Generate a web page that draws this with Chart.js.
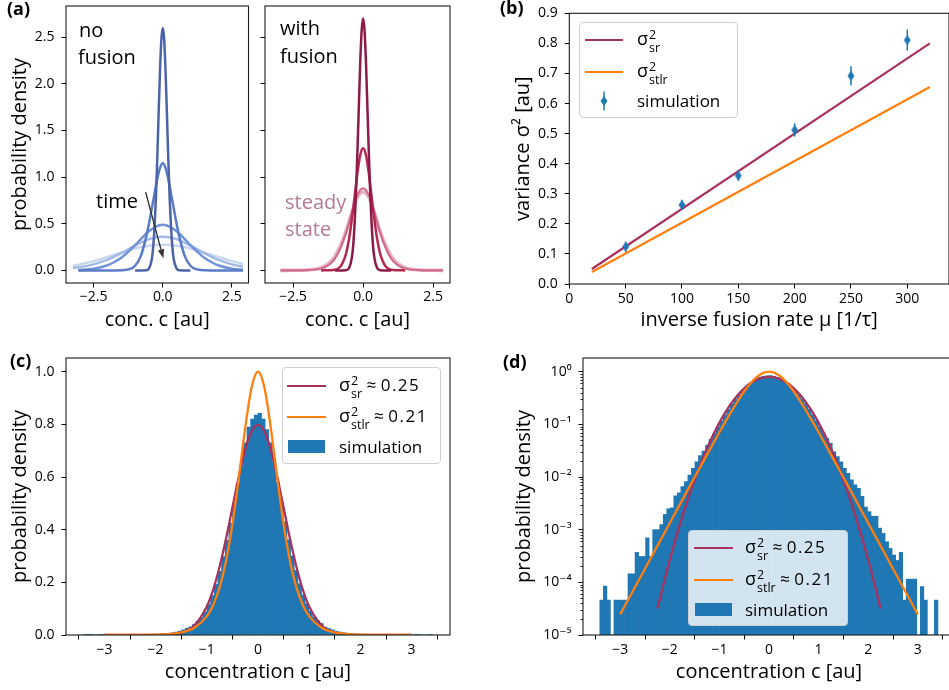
<!DOCTYPE html>
<html>
<head>
<meta charset="utf-8">
<script src="https://cdn.jsdelivr.net/npm/chart.js@4.4.1/dist/chart.umd.min.js"></script>
<style>
html,body{margin:0;padding:0;background:#fff;overflow:hidden;width:949px;height:690px}
body{position:relative;font-family:'Open Sans','DejaVu Sans',sans-serif;color:#000}
canvas.pc{position:absolute}
.t{position:absolute;white-space:nowrap;line-height:22px}
.ann{font-size:20px}
.plab{font-weight:bold;font-size:18px}
.legend{position:absolute;border:1px solid #cfcfcf;border-radius:4px;background:rgba(255,255,255,0.8);box-sizing:border-box}
.lline{position:absolute;height:2.6px}
.lbox{position:absolute;background:#1f77b4}
.ltxt{position:absolute;transform:translateY(-50%);font-size:17px;white-space:nowrap;line-height:22px}
.sig{font-size:18px}
.ss{display:inline-block;vertical-align:middle;font-size:12.5px;line-height:13px;margin-left:1px;text-align:left;position:relative;top:1px}
.ss span{display:block}
.num{letter-spacing:1.5px}
</style>
</head>
<body>
<canvas id="cA1" class="pc" width="255" height="335" style="left:0;top:0"></canvas>
<canvas id="cA2" class="pc" width="200" height="335" style="left:255px;top:0"></canvas>
<canvas id="cB" class="pc" width="475" height="335" style="left:480px;top:0"></canvas>
<canvas id="cC" class="pc" width="470" height="350" style="left:0;top:340px"></canvas>
<canvas id="cD" class="pc" width="480" height="350" style="left:480px;top:340px"></canvas>

<!-- panel labels -->
<div class="t plab" style="left:7px;top:-3px">(a)</div>
<div class="t plab" style="left:500px;top:-4px">(b)</div>
<div class="t plab" style="left:10px;top:349px">(c)</div>
<div class="t plab" style="left:503px;top:350px">(d)</div>

<!-- (a) annotations -->
<div class="t ann" style="left:79px;top:19px">no</div>
<div class="t ann" style="left:78px;top:46px">fusion</div>
<div class="t ann" style="left:280px;top:17px">with</div>
<div class="t ann" style="left:280px;top:45px">fusion</div>
<div class="t ann" style="left:96px;top:190px">time</div>
<div class="t ann" style="left:285px;top:191px;color:#b27a95">steady</div>
<div class="t ann" style="left:285px;top:218px;color:#b27a95">state</div>

<!-- (b) legend -->
<div class="legend" style="left:579px;top:22px;width:159px;height:96px"></div>
<div class="lline" style="left:585px;top:38.7px;width:38px;background:#a8325f"></div>
<div class="ltxt" style="left:637px;top:40px"><span class="sig">σ</span><span class="ss"><span>2</span><span>sr</span></span></div>
<div class="lline" style="left:585px;top:70.7px;width:38px;background:#ff7f0e"></div>
<div class="ltxt" style="left:637px;top:72px"><span class="sig">σ</span><span class="ss"><span>2</span><span>stlr</span></span></div>
<svg style="position:absolute;left:598px;top:91px" width="12" height="20"><line x1="6" y1="0.5" x2="6" y2="19.5" stroke="#1f77b4" stroke-width="1.5"/><polygon points="6,5 9.5,10 6,15 2.5,10" fill="#1f77b4"/></svg>
<div class="ltxt" style="left:637px;top:101px">simulation</div>

<!-- (c) legend -->
<div class="legend" style="left:282px;top:367px;width:159px;height:97px"></div>
<div class="lline" style="left:287px;top:384.7px;width:39px;background:#a8325f"></div>
<div class="ltxt" style="left:339px;top:386px"><span class="sig">σ</span><span class="ss"><span>2</span><span>sr</span></span> ≈ <span class="num">0.25</span></div>
<div class="lline" style="left:287px;top:415.7px;width:39px;background:#ff7f0e"></div>
<div class="ltxt" style="left:339px;top:417px"><span class="sig">σ</span><span class="ss"><span>2</span><span>stlr</span></span> ≈ <span class="num">0.21</span></div>
<div class="lbox" style="left:288px;top:440px;width:37px;height:13px"></div>
<div class="ltxt" style="left:339px;top:447px">simulation</div>

<!-- (d) legend -->
<div class="legend" style="left:688px;top:530px;width:160px;height:96px"></div>
<div class="lline" style="left:694px;top:546.7px;width:39px;background:#a8325f"></div>
<div class="ltxt" style="left:745px;top:548px"><span class="sig">σ</span><span class="ss"><span>2</span><span>sr</span></span> ≈ <span class="num">0.25</span></div>
<div class="lline" style="left:694px;top:578.7px;width:39px;background:#ff7f0e"></div>
<div class="ltxt" style="left:745px;top:580px"><span class="sig">σ</span><span class="ss"><span>2</span><span>stlr</span></span> ≈ <span class="num">0.21</span></div>
<div class="lbox" style="left:695px;top:603px;width:37px;height:13px"></div>
<div class="ltxt" style="left:745px;top:610px">simulation</div>

<script>
// ================= DATA =================
// (a) left: no fusion — curves (darkest = earliest)
const nf1X = [-1,-0.6,-0.5,-0.4,-0.35,-0.3,-0.25,-0.2,-0.15,-0.1,-0.05,0,0.05,0.1,0.15,0.2,0.25,0.3,0.35,0.4,0.5,0.6,1];
const nf1Y = [0,0.002,0.02,0.114,0.24,0.45,0.77,1.19,1.68,2.14,2.48,2.6,2.48,2.14,1.68,1.19,0.77,0.45,0.24,0.114,0.02,0.002,0];
const nf2X = [-3.05,-2,-1.5,-1.2,-1,-0.8,-0.6,-0.5,-0.4,-0.3,-0.2,-0.1,0,0.1,0.2,0.3,0.4,0.5,0.6,0.8,1,1.2,1.5,2,2.9];
const nf2Y = [0,0,0.002,0.013,0.05,0.15,0.36,0.5,0.66,0.82,0.98,1.1,1.15,1.1,0.98,0.82,0.66,0.5,0.36,0.15,0.05,0.013,0.002,0,0];
const nf3X = [-3.05,-2.5,-2,-1.75,-1.5,-1.25,-1,-0.75,-0.5,-0.25,0,0.25,0.5,0.75,1,1.25,1.5,1.75,2,2.5,2.9];
const nf3Y = [0.004,0.018,0.055,0.09,0.135,0.2,0.27,0.35,0.42,0.47,0.49,0.47,0.42,0.35,0.27,0.2,0.135,0.09,0.055,0.018,0.006];
const nf4X = [-3.25,-3,-2.5,-2,-1.5,-1,-0.5,0,0.5,1,1.5,2,2.5,2.9];
const nf4Y = [0.028,0.035,0.065,0.115,0.185,0.265,0.335,0.36,0.335,0.265,0.185,0.115,0.065,0.04];
const nf5X = [-3.25,-3,-2.5,-2,-1.5,-1,-0.5,0,0.5,1,1.5,2,2.5,2.9];
const nf5Y = [0.05,0.065,0.1,0.145,0.19,0.235,0.265,0.275,0.265,0.235,0.19,0.145,0.1,0.07];
// (a) right: with fusion
const wf1X = [-1,-0.6,-0.5,-0.4,-0.35,-0.3,-0.25,-0.2,-0.15,-0.1,-0.05,0,0.05,0.1,0.15,0.2,0.25,0.3,0.35,0.4,0.5,0.6,1];
const wf1Y = [0,0.003,0.025,0.14,0.28,0.52,0.86,1.3,1.78,2.25,2.58,2.7,2.58,2.25,1.78,1.3,0.86,0.52,0.28,0.14,0.025,0.003,0];
const wf2X = [-1.5,-1,-0.8,-0.7,-0.6,-0.5,-0.4,-0.3,-0.2,-0.1,0,0.1,0.2,0.3,0.4,0.5,0.6,0.7,0.8,1,1.5];
const wf2Y = [0,0.008,0.045,0.1,0.19,0.34,0.55,0.8,1.05,1.24,1.31,1.24,1.05,0.8,0.55,0.34,0.19,0.1,0.045,0.008,0];
const wf3X = [-2.95,-2.5,-2,-1.5,-1.2,-1,-0.8,-0.6,-0.4,-0.2,0,0.2,0.4,0.6,0.8,1,1.2,1.5,2,2.5,2.85];
const wf3Y = [0,0,0.003,0.02,0.065,0.13,0.245,0.41,0.62,0.81,0.88,0.81,0.62,0.41,0.245,0.13,0.065,0.02,0.003,0,0];
const wf4X = [-2.95,-2.5,-2,-1.5,-1.2,-1,-0.8,-0.6,-0.4,-0.2,0,0.2,0.4,0.6,0.8,1,1.2,1.5,2,2.5,2.85];
const wf4Y = [0,0.001,0.005,0.03,0.085,0.155,0.27,0.43,0.62,0.785,0.84,0.785,0.62,0.43,0.27,0.155,0.085,0.03,0.005,0.001,0];
const aXTicks = [-2.5, 0, 2.5];
const aYTicks = [0, 0.5, 1.0, 1.5, 2.0, 2.5];
const arrowFrom = [-0.62, 0.84];
const arrowTo = [0.02, 0.13];

// (b) variance vs inverse fusion rate
const muLine = [20, 320];
const srLine = [0.05, 0.80];
const stlrLine = [0.04, 0.655];
const simMu = [50, 100, 150, 200, 250, 300];
const simVar = [0.124, 0.263, 0.36, 0.512, 0.692, 0.811];
const simErr = [0.017, 0.017, 0.017, 0.022, 0.032, 0.035];
const bXTicks = [0, 50, 100, 150, 200, 250, 300];
const bYTicks = [0, 0.1, 0.2, 0.3, 0.4, 0.5, 0.6, 0.7, 0.8, 0.9];

// (c),(d) steady-state histogram (bin centres, density) and model curves
const histC = [-3.375,-3.304,-3.233,-3.162,-3.091,-3.020,-2.949,-2.878,-2.807,-2.736,-2.665,-2.594,-2.523,-2.452,-2.381,-2.310,-2.239,-2.168,-2.097,-2.026,-1.955,-1.884,-1.813,-1.742,-1.671,-1.600,-1.529,-1.458,-1.387,-1.316,-1.245,-1.174,-1.103,-1.032,-0.961,-0.890,-0.819,-0.748,-0.677,-0.606,-0.535,-0.464,-0.393,-0.322,-0.251,-0.180,-0.109,-0.038,0.033,0.104,0.175,0.246,0.317,0.388,0.459,0.530,0.601,0.672,0.743,0.814,0.885,0.956,1.027,1.098,1.169,1.240,1.311,1.382,1.453,1.524,1.595,1.666,1.737,1.808,1.879,1.950,2.021,2.092,2.163,2.234,2.305,2.376,2.447,2.518,2.589,2.660,2.731,2.802,2.873,2.944,3.015,3.086,3.157,3.228,3.299,3.370];
const histD = [4.6e-5,8.5e-5,4.6e-5,0,4.6e-5,4.6e-5,4.6e-5,4.6e-5,1.45e-4,1.45e-4,3.7e-4,3.1e-4,3.1e-4,7.0e-4,3.1e-4,1.0e-3,1.0e-3,1.25e-3,1.95e-3,2.5e-3,2.6e-3,4.4e-3,5.0e-3,6.6e-3,8.2e-3,0.0109,0.0146,0.0195,0.0254,0.031,0.040,0.052,0.066,0.088,0.116,0.150,0.192,0.242,0.298,0.360,0.425,0.50,0.575,0.645,0.73,0.79,0.82,0.835,0.842,0.82,0.78,0.73,0.655,0.58,0.505,0.43,0.362,0.30,0.245,0.195,0.152,0.118,0.09,0.068,0.054,0.0436,0.030,0.0245,0.0195,0.0146,0.0117,0.0088,0.0071,0.0061,0.0043,0.0027,0.0022,0.0018,0.0018,0.00107,8.5e-4,5.9e-4,4.4e-4,3.3e-4,2.6e-4,3.7e-4,4.6e-5,1.15e-4,1.15e-4,1.15e-4,0,8.3e-5,4.6e-5,0,0,4.6e-5];
const curveX = [-3,-2.75,-2.5,-2.25,-2,-1.75,-1.5,-1.25,-1,-0.875,-0.75,-0.625,-0.5,-0.375,-0.25,-0.125,0,0.125,0.25,0.375,0.5,0.625,0.75,0.875,1,1.25,1.5,1.75,2,2.25,2.5,2.75,3];
const srCurve = [1.2e-8,2.15e-7,2.97e-6,3.2e-5,2.68e-4,1.745e-3,8.86e-3,0.0351,0.108,0.1726,0.259,0.3653,0.4839,0.6023,0.7042,0.7734,0.7979,0.7734,0.7042,0.6023,0.4839,0.3653,0.259,0.1726,0.108,0.0351,8.86e-3,1.745e-3,2.68e-4,3.2e-5,2.97e-6,2.15e-7,1.2e-8];
const stlrCurve = [2.46e-5,6.68e-5,1.816e-4,4.935e-4,1.341e-3,3.641e-3,9.87e-3,0.0266,0.0707,0.1138,0.1807,0.2804,0.42,0.5966,0.7864,0.94,1.0,0.94,0.7864,0.5966,0.42,0.2804,0.1807,0.1138,0.0707,0.0266,9.87e-3,3.641e-3,1.341e-3,4.935e-4,1.816e-4,6.68e-5,2.46e-5];
const srLogRange = [-2.25, 2.25];
const cdXTicks = [-3, -2, -1, 0, 1, 2, 3];
const cYTicks = [0, 0.2, 0.4, 0.6, 0.8, 1.0];
const dYTicks = [1e-5, 1e-4, 1e-3, 1e-2, 1e-1, 1];
const dYLabels = ['10\u207B\u2075','10\u207B\u2074','10\u207B\u00B3','10\u207B\u00B2','10\u207B\u00B9','10\u2070'];
const dMinorMant = [2,3,4,5,6,7,8,9];
const dMinorDec = [1e-5,1e-4,1e-3,1e-2,1e-1];

// ================= STYLE =================
const C_SR = '#a8325f', C_STLR = '#ff7f0e', C_BLUE = '#1f77b4';
const NF_COLORS = ['#4b64a8','#5a7bc6','#6f92d8','#a3bae7','#c8d6ef'];
const WF_COLORS = ['#8c1b4a','#b3284f','#cf6c8e','#e8b5c6'];

Chart.defaults.font.family = "'Open Sans','DejaVu Sans',sans-serif";
Chart.defaults.color = '#000';
Chart.defaults.animation = false;

const pts = (xs, ys) => xs.map((x, i) => ({x: x, y: ys[i]}));
const mfmt = (v, d) => (v < 0 ? '\u2212' : '') + Math.abs(v).toFixed(d);

function axis(o) {
  return {
    type: o.type || 'linear', min: o.min, max: o.max, offset: false,
    afterBuildTicks: s => { s.ticks = o.ticks.map(v => ({value: v})); },
    afterFit: s => {
      if (s.isHorizontal()) s.height = o.size; else s.width = o.size;
      s.paddingLeft = 0; s.paddingRight = 0; s.paddingTop = 0; s.paddingBottom = 0;
    },
    ticks: { autoSkip: false, maxRotation: 0, minRotation: 0, padding: o.pad, color: '#000',
      font: {size: 14}, callback: o.fmt },
    grid: { display: true, drawOnChartArea: false, drawTicks: true, tickLength: 4.5, tickWidth: 1, tickColor: '#000' },
    border: { display: false },
    title: o.title ? { display: true, text: o.title, color: '#000', font: {size: 20, lineHeight: 1.2}, padding: o.tpad } : { display: false }
  };
}

const framePlugin = { id: 'frame', afterDraw(chart) {
  const a = chart.chartArea, ctx = chart.ctx;
  ctx.save(); ctx.strokeStyle = '#1a1a1a'; ctx.lineWidth = 1.1;
  ctx.strokeRect(a.left, a.top, a.right - a.left, a.bottom - a.top); ctx.restore();
}};

const baseOpts = (pad, scales, extra) => Object.assign({
  responsive: false, animation: false, events: [],
  layout: { padding: pad },
  plugins: { legend: {display: false}, tooltip: {enabled: false} },
  scales: scales
}, extra || {});

const lineDs = (xs, ys, color, w) => ({ type: 'line', data: pts(xs, ys), borderColor: color, borderWidth: w,
  pointRadius: 0, fill: false, cubicInterpolationMode: 'monotone', showLine: true });

// ---------- (a) left ----------
const arrowPlugin = { id: 'arrow', afterDatasetsDraw(chart) {
  const xs = chart.scales.x, ys = chart.scales.y, ctx = chart.ctx;
  const x0 = xs.getPixelForValue(arrowFrom[0]), y0 = ys.getPixelForValue(arrowFrom[1]);
  const x1 = xs.getPixelForValue(arrowTo[0]), y1 = ys.getPixelForValue(arrowTo[1]);
  const ang = Math.atan2(y1 - y0, x1 - x0), hl = 9, hw = 3.2;
  const bx = x1 - hl * Math.cos(ang), by = y1 - hl * Math.sin(ang);
  ctx.save(); ctx.strokeStyle = '#333'; ctx.fillStyle = '#333'; ctx.lineWidth = 1.4;
  ctx.beginPath(); ctx.moveTo(x0, y0); ctx.lineTo(bx, by); ctx.stroke();
  ctx.beginPath(); ctx.moveTo(x1, y1);
  ctx.lineTo(bx + hw * Math.sin(ang), by - hw * Math.cos(ang));
  ctx.lineTo(bx - hw * Math.sin(ang), by + hw * Math.cos(ang));
  ctx.closePath(); ctx.fill(); ctx.restore();
}};

const aScales = (ySize, showYLabels, yTitle) => ({
  x: axis({min: -3.5, max: 3.1, ticks: aXTicks, size: 52, pad: 1, fmt: v => mfmt(v, 1),
           title: 'conc. c [au]', tpad: {top: 0, bottom: 3}}),
  y: axis({min: -0.135, max: 2.835, ticks: aYTicks, size: ySize, pad: 7,
           fmt: showYLabels ? (v => mfmt(v, 1)) : (() => ''),
           title: yTitle, tpad: {top: 8, bottom: 0}})
});

new Chart(document.getElementById('cA1'), {
  type: 'scatter',
  data: { datasets: [
    lineDs(nf1X, nf1Y, NF_COLORS[0], 2.5), lineDs(nf2X, nf2Y, NF_COLORS[1], 2.5),
    lineDs(nf3X, nf3Y, NF_COLORS[2], 2.5), lineDs(nf4X, nf4Y, NF_COLORS[3], 2.5),
    lineDs(nf5X, nf5Y, NF_COLORS[4], 2.5) ] },
  options: baseOpts({top: 6, right: 6.5, left: 0, bottom: 0}, aScales(66, true, 'probability density')),
  plugins: [framePlugin, arrowPlugin]
});

// ---------- (a) right ----------
new Chart(document.getElementById('cA2'), {
  type: 'scatter',
  data: { datasets: [
    lineDs(wf1X, wf1Y, WF_COLORS[0], 2.5), lineDs(wf2X, wf2Y, WF_COLORS[1], 2.5),
    lineDs(wf3X, wf3Y, WF_COLORS[2], 2.2), lineDs(wf4X, wf4Y, WF_COLORS[3], 3.6) ] },
  options: baseOpts({top: 6, right: 5, left: 0, bottom: 0}, aScales(10, false, null)),
  plugins: [framePlugin]
});

// ---------- (b) ----------
const dia = document.createElement('canvas');
dia.width = 8; dia.height = 11;
(function () { const g = dia.getContext('2d'); g.fillStyle = C_BLUE; g.beginPath();
  g.moveTo(4, 0.5); g.lineTo(7.5, 5.5); g.lineTo(4, 10.5); g.lineTo(0.5, 5.5); g.closePath(); g.fill(); })();

const errPlugin = { id: 'err', afterDatasetsDraw(chart) {
  const xs = chart.scales.x, ys = chart.scales.y, ctx = chart.ctx;
  ctx.save(); ctx.strokeStyle = C_BLUE; ctx.lineWidth = 1.5;
  simMu.forEach((m, i) => {
    const px = xs.getPixelForValue(m);
    ctx.beginPath(); ctx.moveTo(px, ys.getPixelForValue(simVar[i] - simErr[i]));
    ctx.lineTo(px, ys.getPixelForValue(simVar[i] + simErr[i])); ctx.stroke();
  });
  ctx.restore();
}};

new Chart(document.getElementById('cB'), {
  type: 'scatter',
  data: { datasets: [
    Object.assign(lineDs(muLine, srLine, C_SR, 2.2), {cubicInterpolationMode: 'default', order: 3}),
    Object.assign(lineDs(muLine, stlrLine, C_STLR, 2.2), {cubicInterpolationMode: 'default', order: 2}),
    { type: 'scatter', data: pts(simMu, simVar), pointStyle: dia, pointRadius: 5, showLine: false, order: 1 } ] },
  options: baseOpts({top: 13.3, right: 4, left: 0, bottom: 0}, {
    x: axis({min: 0, max: 337, ticks: bXTicks, size: 51, pad: 2, fmt: v => String(v),
             title: 'inverse fusion rate \u03BC [1/\u03C4]', tpad: {top: 0, bottom: 3}}),
    y: axis({min: 0, max: 0.9, ticks: bYTicks, size: 89.3, pad: 7, fmt: v => v.toFixed(1),
             title: 'variance \u03C3\u00B2 [au]', tpad: {top: 31, bottom: 0}})
  }),
  plugins: [framePlugin, errPlugin]
});

// ---------- (c) ----------
const histDs = () => ({ type: 'bar', data: pts(histC, histD), backgroundColor: C_BLUE, borderWidth: 0,
  barPercentage: 1, categoryPercentage: 1, order: 3 });

new Chart(document.getElementById('cC'), {
  type: 'bar',
  data: { datasets: [ histDs(),
    Object.assign(lineDs(curveX, srCurve, C_SR, 2.3), {order: 2}),
    Object.assign(lineDs(curveX, stlrCurve, C_STLR, 2.3), {order: 1}) ] },
  options: baseOpts({top: 18, right: 20, left: 0, bottom: 0}, {
    x: axis({min: -3.75, max: 3.75, ticks: cdXTicks, size: 55, pad: 2, fmt: v => mfmt(v, 0),
             title: 'concentration c [au]', tpad: {top: 0, bottom: 6}}),
    y: axis({min: 0, max: 1.052, ticks: cYTicks, size: 66, pad: 7, fmt: v => v.toFixed(1),
             title: 'probability density', tpad: {top: 8, bottom: 0}})
  }),
  plugins: [framePlugin]
});

// ---------- (d) ----------
const minorPlugin = { id: 'minor', afterDraw(chart) {
  const ys = chart.scales.y, a = chart.chartArea, ctx = chart.ctx;
  ctx.save(); ctx.strokeStyle = '#000'; ctx.lineWidth = 0.8;
  dMinorDec.forEach(d => dMinorMant.forEach(m => {
    const py = Math.round(ys.getPixelForValue(m * d)) + 0.5;
    ctx.beginPath(); ctx.moveTo(a.left - 2.6, py); ctx.lineTo(a.left, py); ctx.stroke();
  }));
  ctx.restore();
}};
const srLogX = curveX.filter(x => x >= srLogRange[0] && x <= srLogRange[1]);
const srLogY = srCurve.filter((y, i) => curveX[i] >= srLogRange[0] && curveX[i] <= srLogRange[1]);

new Chart(document.getElementById('cD'), {
  type: 'bar',
  data: { datasets: [ histDs(),
    Object.assign(lineDs(srLogX, srLogY, C_SR, 2.3), {order: 2}),
    Object.assign(lineDs(curveX, stlrCurve, C_STLR, 2.3), {order: 1}) ] },
  options: baseOpts({top: 18, right: 5, left: 0, bottom: 0}, {
    x: axis({min: -3.75, max: 3.75, ticks: cdXTicks, size: 55, pad: 2, fmt: v => mfmt(v, 0),
             title: 'concentration c [au]', tpad: {top: 0, bottom: 6}}),
    y: axis({type: 'logarithmic', min: 1e-5, max: 1.82, ticks: dYTicks, size: 103, pad: 7,
             fmt: v => dYLabels[Math.round(Math.log10(v)) + 5],
             title: 'probability density', tpad: {top: 32, bottom: 0}})
  }),
  plugins: [framePlugin, minorPlugin]
});
</script>
</body>
</html>
